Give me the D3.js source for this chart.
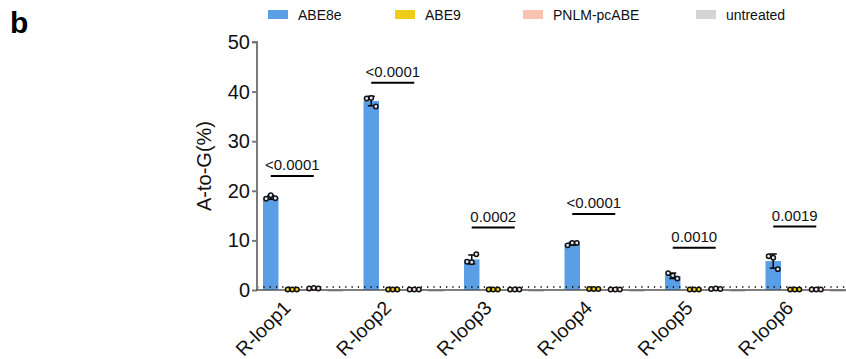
<!DOCTYPE html>
<html>
<head>
<meta charset="utf-8">
<script src="https://cdn.jsdelivr.net/npm/d3@7"></script>
<style>
  body { margin: 0; background: #fff; }
  text { font-family: "Liberation Sans", Arial, sans-serif; }
</style>
</head>
<body>
<svg id="chart" width="846" height="359"></svg>
<script>
// ---- data ----
const categories = ["R-loop1", "R-loop2", "R-loop3", "R-loop4", "R-loop5", "R-loop6"];
const seriesNames = ["ABE8e", "ABE9", "PNLM-pcABE", "untreated"];
const seriesColors = ["#5a9ee6", "#f0cc1a", "#f8c4b0", "#d4d4d4"];
// replicate points per category
const abe8ePoints = [[18.4, 19.1, 18.5], [38.6, 38.7, 37.0], [5.7, 5.6, 7.2], [9.0, 9.5, 9.5], [3.4, 2.9, 2.3], [6.8, 6.5, 4.2]];
const abe9Points = [[0.1, 0.1, 0.1], [0.1, 0.1, 0.1], [0.1, 0.1, 0.1], [0.2, 0.2, 0.2], [0.1, 0.1, 0.1], [0.1, 0.1, 0.1]];
const pnlmPoints = [[0.3, 0.4, 0.3], [0.1, 0.1, 0.1], [0.1, 0.1, 0.1], [0.1, 0.1, 0.1], [0.2, 0.3, 0.2], [0.1, 0.1, 0.1]];
const untreatedPoints = [[-0.4, -0.4, -0.4], [-0.4, -0.4, -0.4], [-0.4, -0.4, -0.4], [-0.4, -0.4, -0.4], [-0.4, -0.4, -0.4], [-0.4, -0.4, -0.4]];
const pValues = ["<0.0001", "<0.0001", "0.0002", "<0.0001", "0.0010", "0.0019"];
const bracketLevels = [23.0, 41.8, 12.6, 15.3, 8.5, 12.8];
const yTicks = [0, 10, 20, 30, 40, 50];
const detectionLimit = 0.6;

const allPoints = [abe8ePoints, abe9Points, pnlmPoints, untreatedPoints];
const dotFills = ["#dfe9f5", "#f0cc1a", "#f3e3dc", "#d4d4d4"];

// ---- layout ----
const svg = d3.select("#chart");

const y = d3.scaleLinear().domain([0, 50]).range([290, 42]);
const x0 = d3.scaleBand().domain(categories).range([257, 257 + 6 * 100.5]).padding(0);
const x1 = d3.scaleBand().domain(seriesNames).range([6, 86]).paddingInner(0.28).paddingOuter(0);

const mean = a => d3.mean(a);
const sd = a => d3.deviation(a);

// bars
categories.forEach((cat, ci) => {
  const g = svg.append("g").attr("transform", `translate(${x0(cat)},0)`);
  seriesNames.forEach((s, si) => {
    const pts = allPoints[si][ci];
    const m = mean(pts);
    const bx = x1(s), bw = x1.bandwidth();
    g.append("rect")
      .attr("x", bx).attr("width", bw)
      .attr("y", Math.min(y(m), y(0)))
      .attr("height", Math.abs(y(0) - y(m)))
      .attr("fill", seriesColors[si]);
  });
});

// dotted detection line
svg.append("line")
  .attr("x1", 257).attr("x2", 846)
  .attr("y1", y(detectionLimit)).attr("y2", y(detectionLimit))
  .attr("stroke", "#000").attr("stroke-width", 1.3)
  .attr("stroke-dasharray", "1.3,5");

// axes
const yAxis = d3.axisLeft(y).tickValues(yTicks).tickSize(5).tickPadding(2);
const yg = svg.append("g").attr("transform", "translate(257,0)").call(yAxis);
yg.select(".domain").attr("stroke", "#7a7a7a").attr("stroke-width", 2).attr("d", `M-5,${y(50)}H0V${y(0)}`);
yg.selectAll(".tick line").attr("stroke", "#7a7a7a").attr("stroke-width", 2);
yg.selectAll(".tick text").attr("font-size", 20).attr("fill", "#111").attr("font-family", "Liberation Sans, Arial, sans-serif");

svg.append("line").attr("x1", 256).attr("x2", 846).attr("y1", y(0)).attr("y2", y(0))
  .attr("stroke", "#555").attr("stroke-width", 1.5);

// error bars and points
categories.forEach((cat, ci) => {
  const g = svg.append("g").attr("transform", `translate(${x0(cat)},0)`);
  seriesNames.forEach((s, si) => {
    if (si === 3) return;
    const pts = allPoints[si][ci];
    const m = mean(pts), d = sd(pts);
    const cx = x1(s) + x1.bandwidth() / 2;
    if (si === 0) {
      g.append("line").attr("x1", cx).attr("x2", cx).attr("y1", y(m - d)).attr("y2", y(m + d))
        .attr("stroke", "#000").attr("stroke-width", 1.5);
      g.append("line").attr("x1", cx - 3.5).attr("x2", cx + 3.5).attr("y1", y(m + d)).attr("y2", y(m + d))
        .attr("stroke", "#000").attr("stroke-width", 1.5);
      g.append("line").attr("x1", cx - 3.5).attr("x2", cx + 3.5).attr("y1", y(m - d)).attr("y2", y(m - d))
        .attr("stroke", "#000").attr("stroke-width", 1.5);
    }
    pts.forEach((v, k) => {
      g.append("circle")
        .attr("cx", cx + (k - 1) * 4.6)
        .attr("cy", y(v))
        .attr("r", 2.2)
        .attr("fill", dotFills[si])
        .attr("stroke", "#111").attr("stroke-width", 1.5);
    });
  });
});

// x labels
categories.forEach((cat) => {
  const tx = x0(cat) + 35;
  svg.append("text")
    .attr("transform", `translate(${tx},309) rotate(-45)`)
    .attr("text-anchor", "end")
    .attr("font-size", 19.5)
    .attr("fill", "#111")
    .text(cat);
});

// significance brackets
categories.forEach((cat, ci) => {
  const xa = x0(cat) + x1("ABE8e") + x1.bandwidth() / 2;
  const xb = x0(cat) + x1("PNLM-pcABE") + x1.bandwidth() / 2;
  const yy = y(bracketLevels[ci]);
  svg.append("line").attr("x1", xa).attr("x2", xb).attr("y1", yy).attr("y2", yy)
    .attr("stroke", "#000").attr("stroke-width", 2);
  svg.append("text").attr("x", (xa + xb) / 2).attr("y", yy - 6)
    .attr("text-anchor", "middle").attr("font-size", 15).attr("fill", "#111")
    .text(pValues[ci]);
});

// y label
svg.append("text")
  .attr("transform", `translate(211,166) rotate(-90)`)
  .attr("text-anchor", "middle")
  .attr("font-size", 20)
  .attr("fill", "#111")
  .text("A-to-G(%)");

// legend
const legendX = [268, 395, 523, 696];
seriesNames.forEach((s, i) => {
  svg.append("rect").attr("x", legendX[i]).attr("y", 10).attr("width", 20).attr("height", 9)
    .attr("fill", seriesColors[i]);
  svg.append("text").attr("x", legendX[i] + 30).attr("y", 20)
    .attr("font-size", 14).attr("fill", "#111").text(s);
});

// panel letter
svg.append("text").attr("x", 10).attr("y", 33).attr("font-size", 30).attr("font-weight", "bold")
  .attr("fill", "#000").text("b");
</script>
</body>
</html>
